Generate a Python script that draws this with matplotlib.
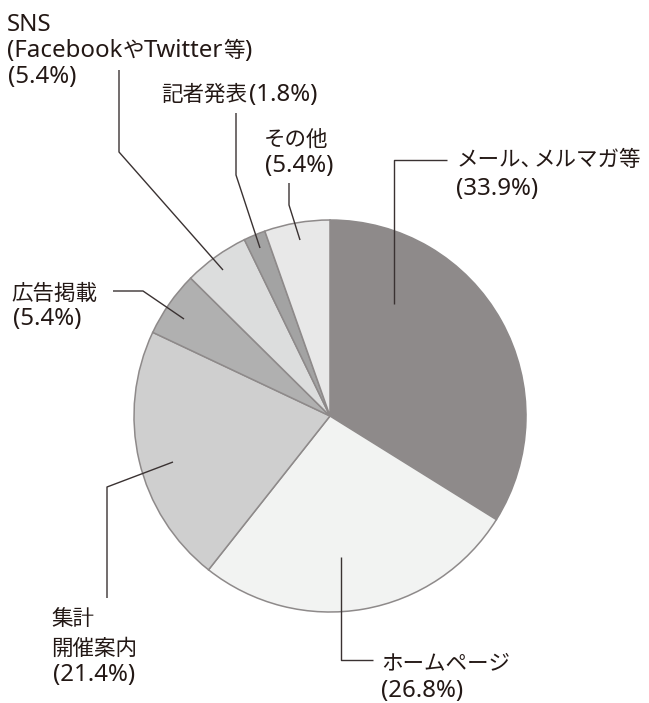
import matplotlib
matplotlib.use("Agg")
import matplotlib.pyplot as plt

plt.rcParams['font.family'] = ['Noto Sans CJK JP', 'DejaVu Sans']

# data (clockwise from 12 o'clock)
categories = ["メール、メルマガ等", "ホームページ", "集計開催案内", "広告掲載",
              "SNS(FacebookやTwitter等)", "記者発表", "その他"]
values = [33.9, 26.8, 21.4, 5.4, 5.4, 1.8, 5.4]
pct_labels = ["(33.9%)", "(26.8%)", "(21.4%)", "(5.4%)", "(5.4%)", "(1.8%)", "(5.4%)"]
colors = ["#8e8a8a", "#f2f3f2", "#cfcfcf", "#b0b0b0", "#dcdddd", "#a3a3a3", "#e8e8e8"]

W, H = 649, 703
fig = plt.figure(figsize=(W / 100, H / 100), dpi=100)
ax = fig.add_axes([0, 0, 1, 1])

ax.pie(values, colors=colors, startangle=90, counterclock=False,
       center=(330, H - 416), radius=196,
       wedgeprops=dict(edgecolor="#8e8a8a", linewidth=1.1))
ax.set_xlim(0, W)
ax.set_ylim(0, H)
ax.set_aspect('equal')
ax.axis('off')

renderer = fig.canvas.get_renderer()

line_kw = dict(color="#3a3232", linewidth=1.0, solid_capstyle='butt')

def leader(points):
    xs = [p[0] for p in points]
    ys = [H - p[1] for p in points]
    ax.plot(xs, ys, **line_kw)

CJK_FS = 15.5
LAT_FS = 17.3
CJK_EM = CJK_FS * 100 / 72
TXT_COLOR = "#231815"

def is_cjk(ch):
    return ord(ch) >= 0x2E80

def label(x, y, s):
    """Draw text with baseline at pixel y (from top), CJK and Latin runs in
    different fonts/sizes like the original typesetting."""
    runs = []
    closed = False
    for ch in s:
        c = is_cjk(ch)
        if runs and runs[-1][1] == c and not closed:
            runs[-1][0] += ch
        else:
            runs.append([ch, c])
        closed = (ch == "、")
    cur = x
    prev = None
    for text, cjk in runs:
        if prev is not None and prev and not cjk and text.startswith("("):
            cur += 2
        if cjk:
            t = ax.text(cur, H - y, text, fontsize=CJK_FS, family=['Noto Sans CJK JP'],
                        color=TXT_COLOR, va='baseline', ha='left')
        else:
            t = ax.text(cur, H - y, text, fontsize=LAT_FS, family=['Noto Sans'],
                        color=TXT_COLOR, va='baseline', ha='left')
        cur += t.get_window_extent(renderer).width
        if text.endswith("、"):
            cur -= 0.42 * CJK_EM
        prev = cjk

# メール、メルマガ等
leader([(394, 304), (394, 160), (447, 160)])
label(457, 166, categories[0])
label(456, 195, pct_labels[0])

# ホームページ
leader([(341, 557), (341, 660), (373, 660)])
label(381, 669, categories[1])
label(381, 697, pct_labels[1])

# 集計 開催案内
leader([(173, 462), (107, 487), (107, 598)])
label(51, 625, "集計")
label(51, 655, "開催案内")
label(53, 681, pct_labels[2])

# 広告掲載
leader([(184, 319), (143, 291), (113, 291)])
label(11, 300, categories[3])
label(13, 325, pct_labels[3])

# SNS
leader([(223, 270), (119, 152), (119, 70)])
label(7, 31, "SNS")
label(7, 57, "(FacebookやTwitter等)")
label(8, 83, pct_labels[4])

# 記者発表
leader([(260, 248), (236, 175), (236, 113)])
label(161, 101, categories[5] + pct_labels[5])

# その他
leader([(300, 240), (289, 205), (289, 183)])
label(264, 146, categories[6])
label(265, 172, pct_labels[6])

fig.savefig("out.png", dpi=100)
